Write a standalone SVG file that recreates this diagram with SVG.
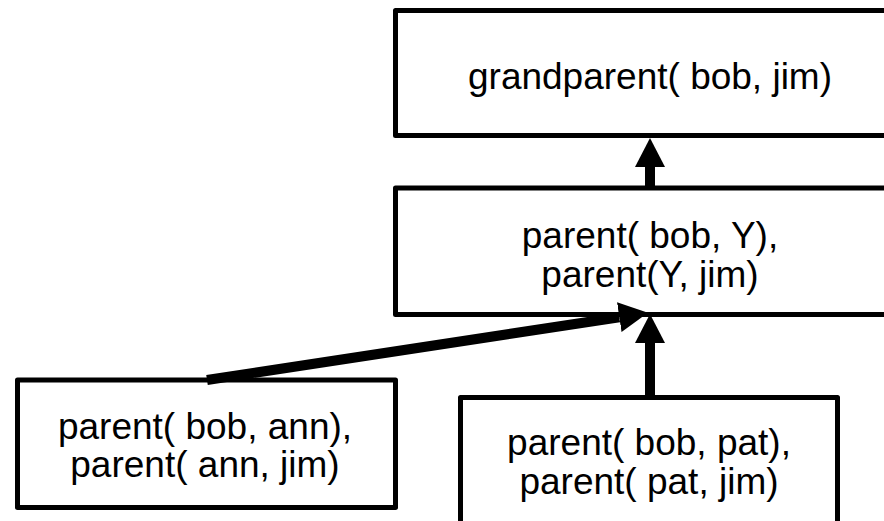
<svg xmlns="http://www.w3.org/2000/svg" width="884" height="521" viewBox="0 0 884 521">
  <style>
    .box { fill: #ffffff; stroke: #000000; stroke-width: 5; stroke-linejoin: round; }
    .label { font-family: "Liberation Sans", Arial, Helvetica, sans-serif; font-size: 37px; fill: #000000; text-anchor: middle; }
    .edge { stroke: #000000; stroke-width: 10; fill: none; marker-end: url(#head); }
  </style>
  <defs>
    <marker id="head" viewBox="0 0 29 30" refX="0" refY="15" markerWidth="29" markerHeight="30" markerUnits="userSpaceOnUse" orient="auto">
      <path d="M0,0 L29,15 L0,30 Z" fill="#000000"/>
    </marker>
  </defs>
  <rect width="884" height="521" fill="#ffffff"/>

  <g id="goal">
    <rect class="box" x="395.5" y="10.5" width="520" height="125"/>
    <text class="label" x="650" y="89">grandparent( bob, jim)</text>
  </g>

  <g id="subgoals">
    <rect class="box" x="395.5" y="188" width="520" height="126.5"/>
    <text class="label" x="650" y="248">parent( bob, Y),</text>
    <text class="label" x="650" y="287">parent(Y, jim)</text>
  </g>

  <g id="via-ann">
    <rect class="box" x="17.5" y="380" width="378" height="127.5"/>
    <text class="label" x="205" y="439">parent( bob, ann),</text>
    <text class="label" x="205" y="477">parent( ann, jim)</text>
  </g>

  <g id="via-pat">
    <rect class="box" x="460.5" y="397.5" width="377" height="140"/>
    <text class="label" x="649" y="455">parent( bob, pat),</text>
    <text class="label" x="649" y="494">parent( pat, jim)</text>
  </g>

  <g id="connectors">
    <path class="edge" d="M650,188 L650,167"/>
    <path class="edge" d="M650,397 L650,343"/>
    <path class="edge" d="M207,380 L619.3,317.2"/>
  </g>
</svg>
